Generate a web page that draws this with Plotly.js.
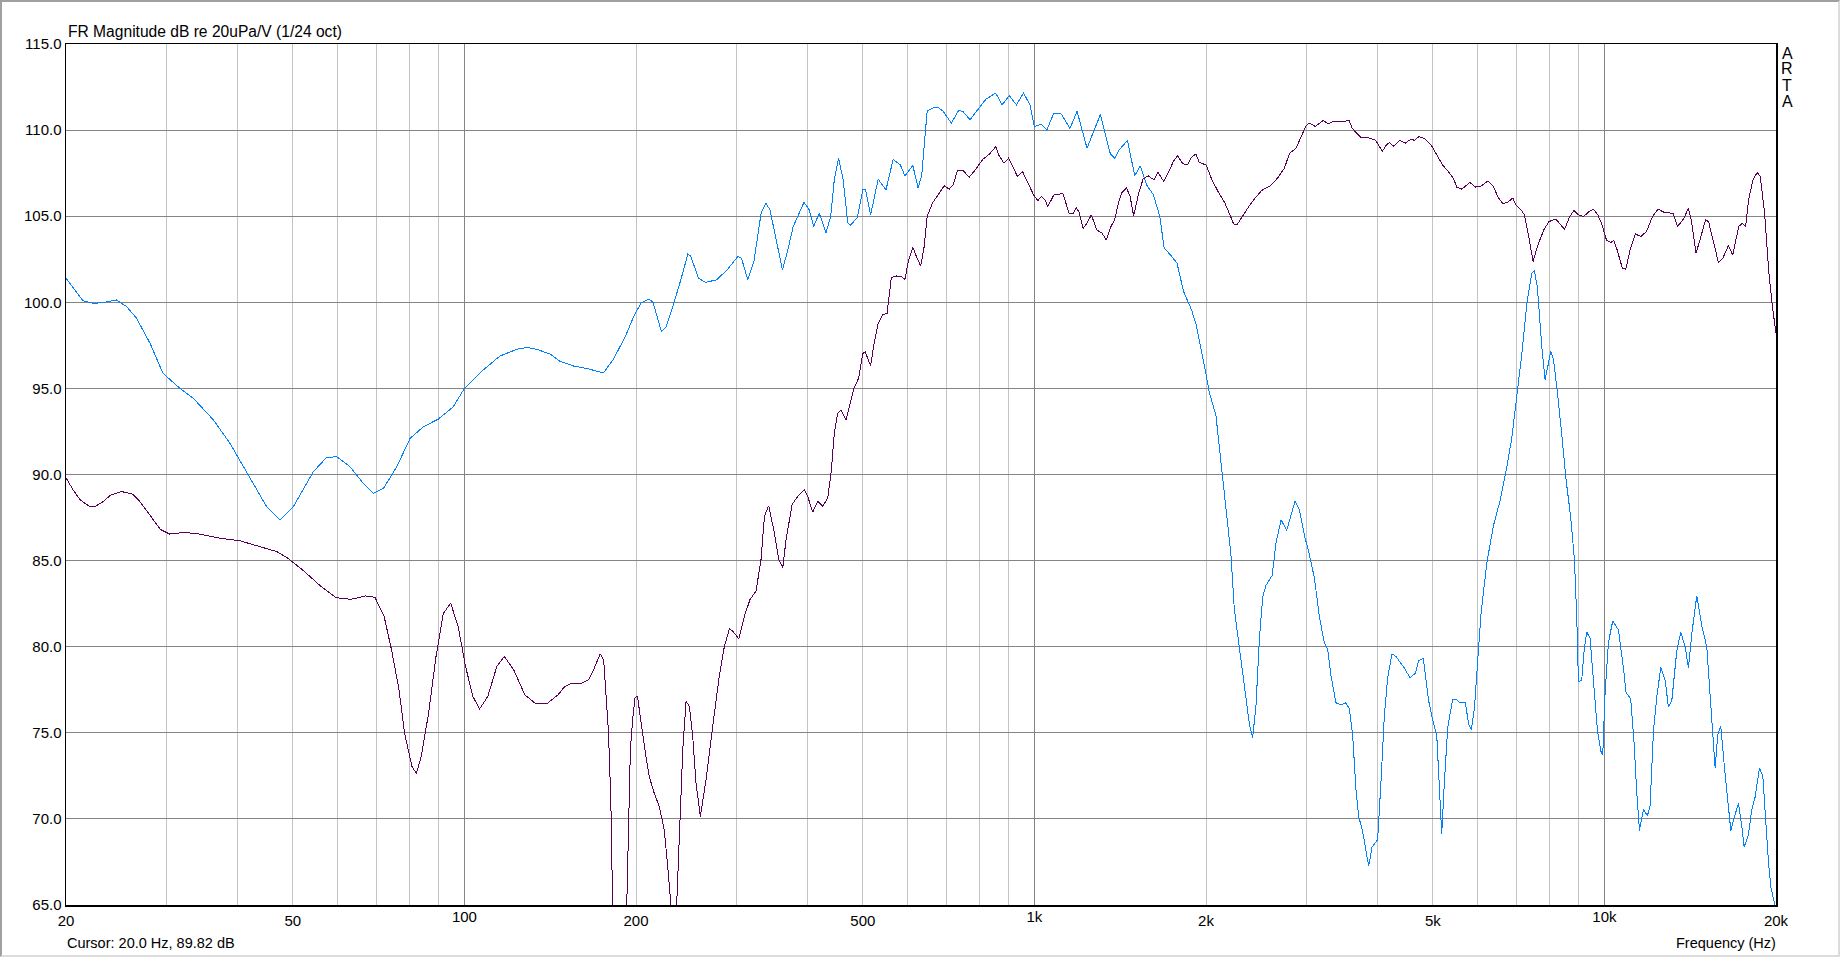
<!DOCTYPE html>
<html>
<head>
<meta charset="utf-8">
<script src="https://cdn.plot.ly/plotly-3.0.1.min.js"></script>
<style>
  html, body { margin: 0; padding: 0; background: #fff; }
  #wrap { position: relative; width: 1842px; height: 958px; overflow: hidden; }
  #chart { position: absolute; left: 0; top: 0; width: 1842px; height: 958px; }
  #chart path.js-line { shape-rendering: crispEdges; }
  #frame { position: absolute; left: 0; top: 0; width: 1840px; height: 957px; box-sizing: border-box;
           border-top: 2px solid #a0a0a0; border-left: 2px solid #a0a0a0;
           border-right: 2px solid #dcdcdc; border-bottom: 2px solid #dcdcdc; pointer-events: none; }
</style>
</head>
<body>
<div id="wrap"><div id="chart"></div><div id="frame"></div></div>
<script>
// ---- Blue series (frequency Hz, dB) ----
var blueFreq = [20,21.4,22.35,23.25,24.5,25.55,26.6,28.1,29.6,31.7,33.5,36.3,38.8,42.0,45.0,47.5,50.1,54.3,57.3,59.7,63.0,66.5,69.2,72.1,76.1,80.3,84.7,90,95.6,100,107.9,115.4,123.5,128.6,133.9,141.3,
146.6,155.4,164.6,173.2,175.6,182.2,191.5,198.6,204.4,210.4,214,221.6,225.9,232,239.7,246.6,249.4,257.4,265,276.7,289,301.7,306.2,314.2,322,331.5,337.8,343.6,351.1,361.4,369.3,377.4,394.2,402.8,409.8,419.3,430.9,439.1,445.5,453.3,461.9,470.6,475.3,489.2,500,505.7,516,532,549.1,565.2,581.8,592.8,611.9,625.2,634.4,648.3,662.3,676.8,691.6,715.1,736,748.8,770.7,795.6,822.4,855.3,877.7,903.4,929.8,957,982.2,999.4,1028.7,1051.2,1081.9,1113.5,1154.4,1188.1,1236.8,1305.3,
1336,1359,1383,1406,1456,1500,1534,1575,1617,1660,1689,1733,1779,1827,
1886,1923,1987,2027,2082,2110,2139,2183,2212,2242,2273,2319,2350,2383,2415,2448,2481,2515,2549,2612,2654,2709,2771,2820,2866,2917,2976,3036,3098,3161,3226,3269,3314,3381,3450,3520,3568,3617,3666,3706,3767,3818,3859,3911,4001,4055,4110,4166,4240,4309,4456,4559,4659,4722,4812,4917,4998,5080,5135,5183,5239,5310,5417,5491,5580,5702,5779,5842,5914,5994,6070,
6217,6387,6561,6741,6879,7020,7161,7307,7456,7537,7629,7764,7868,7953,8048,8136,8270,8415,8564,8727,8858,8943,9003,9124,9211,9311,9438,9565,9721,9853,9933,10027,10163,10342,10582,10798,10915,11122,11274,11396,11520,11708,11898,12028,12193,12357,12557,12779,12953,13127,13395,13614,13853,14043,14232,14522,14819,15120,15366,15640,15807,16000,16218,16440,16662,16889,17188,17419,17584,17894,18139,18383,18708,18963,19218,19400,19600,19850,20000];
var blueDb = [101.4,100.1,99.94,99.98,100.14,99.75,99.07,97.6,95.87,95.0,94.4,93.16,91.8,89.86,88.12,87.35,88.12,90.16,90.99,91.03,90.45,89.48,88.9,89.19,90.45,92.1,92.77,93.22,93.93,95.0,96.07,96.88,97.27,97.38,97.27,97.0,
96.6,96.3,96.14,95.95,95.93,96.65,98.0,99.26,99.98,100.17,100.04,98.3,98.59,99.75,101.3,102.8,102.7,101.4,101.16,101.3,101.88,102.66,102.56,101.3,102.36,105.17,105.76,105.37,103.8,101.88,103.04,104.4,105.8,105.37,104.4,105.17,104.05,104.98,107.1,108.37,107.1,104.6,104.46,104.94,106.53,106.53,105.08,107.15,106.53,108.3,107.98,107.34,107.95,106.63,107.4,111.09,111.28,111.34,111.09,110.4,111.14,111.09,110.6,111.18,111.8,112.15,111.47,112.0,111.47,112.15,111.47,110.2,110.35,110.0,110.99,110.95,110.1,111.09,108.95,110.9,
109.53,108.62,108.37,108.82,109.4,107.35,107.93,106.8,106.24,104.98,103.14,102.75,102.27,100.62,
99.57,98.68,96.33,94.76,93.42,91.63,89.84,87.37,85.36,82.2,80.66,78.64,76.85,75.51,74.73,76.63,80.43,82.9,83.57,84.13,86.03,87.37,86.75,87.6,88.45,87.93,86.48,85.36,84.02,81.78,80.21,79.87,78.31,76.74,76.63,76.74,76.4,74.84,71.7,70.14,69.24,68.12,67.27,68.35,68.8,72.15,75.96,78.2,79.58,79.43,78.76,78.2,78.46,79.2,79.31,76.85,75.73,74.84,71.7,69.13,72.15,75.29,76.96,76.96,76.74,76.74,75.51,75.17,76.4,79.54,81.8,
84.85,87.03,88.48,90.42,92.12,94.55,96.97,99.88,101.7,101.82,100.85,97.45,95.52,96.24,97.16,96.73,94.79,92.36,89.7,87.52,85.09,81.7,77.94,78.06,79.76,80.85,80.48,78.06,75.15,73.94,73.7,77.33,80.24,81.5,80.97,78.79,77.33,76.97,74.42,71.52,69.33,70.55,70.18,70.79,75.15,77.09,78.79,78.06,76.48,76.85,79.76,80.85,80.0,78.79,80.73,82.96,81.21,80.0,76.36,72.97,74.91,75.39,73.21,71.03,69.33,70.06,70.91,69.58,68.36,69.09,70.55,71.27,72.97,72.48,69.6,67.5,66.0,65.1,64.7];

// ---- Purple series (frequency Hz, dB) ----
var purpleFreq = [20,20.6,21.2,22.04,22.54,23.23,23.93,25.03,26.18,26.97,28.2,29.28,30.39,32.27,34.25,37.46,40.38,43.51,46.88,49.03,52.05,56.07,59.51,63.2,67.12,69.66,72.3,74.5,76.78,78.52,80.9,82.37,83.98,86.53,89.16,91.84,94.62,97.5,100.46,103.5,106.3,109.9,114.0,117.5,122.0,127.6,133.4,139.6,146.0,
149.7,153.8,160.1,165.1,169,173.1,175.5,177.6,179.0,180.7,181.8,183.5,190.5,192.6,193.9,195.5,197.3,199.2,201.1,204.1,208.2,211.0,215.3,219.7,224.2,227.9,230.3,232,234,235.7,239,241.6,244.8,248.2,251.5,254.9,259.4,265.4,272.6,280,285.8,
291.7,295.7,302.9,309.9,317,324.8,331.4,336,341.8,349.8,356,361.8,366.7,375.7,384.4,394.9,400.2,408.3,416.7,425.2,433.9,439.8,445.7,451.8,457.9,467.2,
476,482.2,491.4,500,504.9,516,522,532,541.2,551.4,561.1,573.4,584.2,592.8,601.5,611.9,620.8,631.6,640.7,648.3,662.3,676.8,694.6,708.8,720.2,732.8,748.8,768.5,787.5,810.7,834.5,846.7,855.3,865.2,884.1,900.8,916.5,934,952.9,971,996.7,1014,1028.7,1043.6,1055.7,1081.9,1097.6,1121.6,1150.8,1167.6,1184.6,1196.5,1217.6,1237,1258.6,1286.2,1314.3,1337.2,1362.4,1382.6,1408.7,
1422,1451,1472,1493,1524,1551,1584,1620,1648,1686,1722,1753,1783,1822,1857,1887,1920,1946,2000,2049,2104,2159,2197,2236,2267,2314,2377,2439,2503,2592,2670,2745,2803,2878,2928,2995,3032,3111,3211,3279,3349,3426,3486,3565,3609,3671,3736,3835,3971,4076,4147,4198,4272,4370,4470,4581,4645,4727,4851,4962,5084,5201,5319,5432,5508,5624,5803,5946,6083,6245,6376,6522,6636,6753,6908,6992,7152,7240,7367,7497,7626,7829,7994,8220,8512,8692,8845,9001,9190,9402,9567,9736,9906,10081,10258,10383,10528,10751,10901,11094,11328,11587,11852,12145,12423,12752,13203,13436,13791,14033,14205,14479,14708,15045,15230,15498,15852,16132,16500,16791,17206,17446,17692,17905,18222,18543,18768,19098,19436,19711,20000];
var purpleDb = [89.8,89.09,88.51,88.13,88.16,88.42,88.8,89.01,88.86,88.42,87.55,86.81,86.54,86.64,86.54,86.29,86.15,85.85,85.52,85.13,84.45,83.49,82.85,82.75,82.95,82.87,81.75,79.82,77.5,74.99,73.05,72.63,73.63,76.14,79.43,81.94,82.52,81.17,78.85,77.11,76.38,77.11,78.85,79.43,78.66,77.21,76.69,76.69,77.21,
77.66,77.85,77.85,78.08,78.76,79.59,79.24,76.92,74.98,70.91,65.5,58,58,65.5,69.17,74.01,75.76,77.02,77.15,75.56,73.62,72.46,71.49,70.72,69.36,66.84,65.0,60,60,65.0,70.14,74.01,76.82,76.53,74.79,72.07,70.14,72.27,75.37,78.28,80.02,
81.04,80.9,80.46,81.78,82.74,83.23,85.06,87.57,88.19,86.61,85.06,84.58,86.22,88.25,88.73,89.12,88.73,87.81,88.44,88.15,88.63,90.09,92.41,93.57,93.76,93.18,
94.2,95.0,95.58,97.03,97.13,96.3,97.42,98.78,99.26,99.36,101.45,101.53,101.49,101.34,102.46,103.2,102.66,102.11,103.24,104.98,105.76,106.24,106.76,106.57,106.82,107.66,107.66,107.27,107.69,108.28,108.62,108.86,109.05,108.57,108.08,108.37,107.89,107.31,107.6,107.02,106.24,105.91,106.14,105.95,105.56,106.24,106.24,106.34,105.14,105.14,105.47,105.27,104.3,104.59,105.08,104.21,104.01,103.62,104.4,104.79,105.95,
106.34,106.63,106.14,105.02,106.34,107.15,107.35,107.11,107.54,107.02,107.6,108.18,108.51,108.04,107.98,108.43,108.62,108.12,107.98,107.11,106.38,105.76,105.17,104.55,104.5,104.98,105.56,106.05,106.49,106.76,107.21,107.79,108.66,108.95,109.53,110.25,110.41,110.21,110.56,110.37,110.5,110.5,110.5,110.56,110.12,109.83,109.59,109.59,109.4,108.76,109.15,109.28,109.05,109.4,109.24,109.48,109.4,109.63,109.48,109.15,108.57,107.98,107.6,107.21,106.69,106.57,106.96,106.69,106.76,107.05,106.76,106.05,105.72,105.8,106.05,105.66,105.33,105.08,103.82,102.36,103.24,104.21,104.69,104.83,104.24,104.98,105.33,105.08,104.98,105.27,105.41,105.08,104.5,103.62,103.47,103.59,103.04,101.98,101.92,103.04,103.97,103.82,104.11,104.98,105.41,105.21,105.17,104.4,104.88,105.47,104.79,102.85,103.62,104.79,104.69,103.62,102.31,102.56,103.29,102.75,104.4,104.59,104.4,105.95,107.11,107.54,107.31,105.17,101.69,99.75,98.2];

// ---- Axis ticks ----
var xLightGrid = [20,30,40,50,60,70,80,90,200,300,400,500,600,700,800,900,2000,3000,4000,5000,6000,7000,8000,9000,20000];
var xLightText = ['20','','','50','','','','','200','','','500','','','','','2k','','','5k','','','','','20k'];
var xDarkGrid = [100,1000,10000];
var xDarkText = ['100','1k','10k'];
var yTicks = [65,70,75,80,85,90,95,100,105,110,115];

var xRange = [Math.log10(20), Math.log10(20000)];
var fontFam = 'Liberation Sans, Arial, sans-serif';

var traces = [
  {x: blueFreq, y: blueDb, type: 'scatter', mode: 'lines', line: {color: '#0080ff', width: 1}, hoverinfo: 'skip', xaxis: 'x', yaxis: 'y'},
  {x: purpleFreq, y: purpleDb, type: 'scatter', mode: 'lines', line: {color: '#5a005a', width: 1}, hoverinfo: 'skip', xaxis: 'x2', yaxis: 'y'}
];

function paperY(py) { return (905 - py) / 861; }
function paperX(px) { return (px - 66) / 1710; }

var annotations = [
  {text: 'Cursor: 20.0 Hz, 89.82 dB', xref: 'paper', yref: 'paper', x: paperX(65), y: paperY(943), xanchor: 'left', yanchor: 'middle', showarrow: false, font: {size: 14.5, color: '#000'}},
  {text: 'Frequency (Hz)', xref: 'paper', yref: 'paper', x: paperX(1778), y: paperY(943), xanchor: 'right', yanchor: 'middle', showarrow: false, font: {size: 14.5, color: '#000'}}
];
var arta = ['A','R','T','A'];
var artaY = [53, 69, 85.5, 101.5];
for (var i = 0; i < arta.length; i++) {
  annotations.push({text: arta[i], xref: 'paper', yref: 'paper', x: paperX(1787), y: paperY(artaY[i]), xanchor: 'center', yanchor: 'middle', showarrow: false, font: {size: 16, color: '#000', family: fontFam}});
}

var layout = {
  width: 1842, height: 958,
  paper_bgcolor: '#ffffff', plot_bgcolor: '#ffffff',
  margin: {l: 66, r: 66, t: 44, b: 53, pad: 0},
  showlegend: false,
  font: {family: fontFam, size: 15, color: '#000'},
  title: {text: 'FR Magnitude dB re 20uPa/V (1/24 oct)', xref: 'container', yref: 'container', x: 68/1842, xanchor: 'left', y: 1 - 32/958, yanchor: 'middle', font: {size: 15.6, color: '#000', family: fontFam}},
  xaxis: {type: 'log', range: xRange, tickmode: 'array', tickvals: xLightGrid, ticktext: xLightText,
          showgrid: true, gridcolor: '#c4c4c4', gridwidth: 1, zeroline: false, ticks: '', ticklabelstandoff: 1,
          showline: true, mirror: true, linecolor: '#000', linewidth: 1.5, tickfont: {size: 15, color: '#000'}},
  xaxis2: {type: 'log', range: xRange, overlaying: 'x', side: 'bottom', tickmode: 'array', tickvals: xDarkGrid, ticktext: xDarkText,
           showgrid: true, gridcolor: '#848484', gridwidth: 1, zeroline: false, ticks: '', ticklabelstandoff: 1, showline: false, tickfont: {size: 15, color: '#000'}},
  yaxis: {range: [65, 115], tickmode: 'array', tickvals: yTicks, tickformat: '.1f',
          showgrid: true, gridcolor: '#848484', gridwidth: 1, zeroline: false, ticks: '',
          showline: true, mirror: true, linecolor: '#000', linewidth: 1.5, tickfont: {size: 15, color: '#000'}},
  annotations: annotations
};

Plotly.newPlot('chart', traces, layout, {staticPlot: true, displayModeBar: false});
</script>
</body>
</html>
